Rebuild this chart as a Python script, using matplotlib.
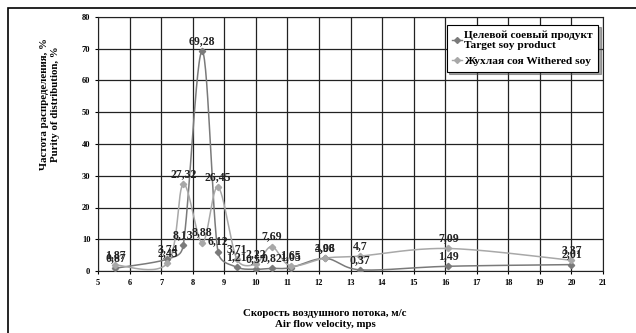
import numpy as np
import matplotlib.pyplot as plt
from matplotlib.patches import Rectangle

# data
speed = [5.55, 7.2, 7.7, 8.3, 8.8, 9.4, 10.0, 10.5, 11.1, 12.2, 13.3, 16.1, 20.0]
target = [0.87, 3.74, 8.13, 69.28, 6.12, 1.21, 0.57, 0.82, 1.05, 3.98, 0.37, 1.49, 2.01]
withered = [1.87, 2.45, 27.32, 8.88, 26.45, 3.71, 2.22, 7.69, 1.65, 4.06, 4.7, 7.09, 3.37]

series_names = ["Целевой соевый продукт\nTarget soy product", "Жухлая соя Withered soy"]
colors = ["#7a7a7a", "#a8a8a8"]

plt.rcParams['font.family'] = ['Liberation Serif', 'DejaVu Serif']
plt.rcParams['font.weight'] = 'bold'


def arm(v, seg_len):
    # limit bezier arm to half of the segment
    n = np.hypot(*v)
    if n > seg_len / 2 and n > 0:
        v = v * (seg_len / 2) / n
    return v


def smooth(ax, xs, ys, n=30):
    # excel-like smoothed line, done in screen space
    p = ax.transData.transform(np.column_stack([xs, ys]))
    p = np.vstack([p[0], p, p[-1]])
    out = []
    t = np.linspace(0, 1, n)[:, None]
    for i in range(1, len(p) - 2):
        p0, p1, p2, p3 = p[i - 1], p[i], p[i + 1], p[i + 2]
        d12 = np.hypot(*(p2 - p1))
        c1 = p1 + arm((p2 - p0) / 6, d12)
        c2 = p2 - arm((p3 - p1) / 6, d12)
        seg = ((1 - t) ** 3) * p1 + 3 * ((1 - t) ** 2) * t * c1 + 3 * (1 - t) * t ** 2 * c2 + t ** 3 * p2
        out.append(seg)
    out = ax.transData.inverted().transform(np.vstack(out))
    return out[:, 0], out[:, 1]


fig = plt.figure(figsize=(6.36, 3.33), dpi=100)
ax = fig.add_axes([98 / 636, 62 / 333, 505 / 636, 254 / 333])
ax.set_xlim(5, 21)
ax.set_ylim(0, 80)

for vals, name, c in zip([target, withered], series_names, colors):
    sx, sy = smooth(ax, speed, vals)
    ax.plot(sx, sy, color=c, lw=1.1, zorder=3)
    ax.plot(speed, vals, 'D', color=c, markersize=3.2, zorder=4)
    ax.plot([], [], '-D', color=c, markersize=3, lw=1, label=name)
    for x, y in zip(speed, vals):
        ax.annotate(f"{y:g}".replace('.', ','), (x, y), xytext=(0, 3), textcoords='offset points',
                    ha='center', va='bottom', fontsize=8.5, fontweight='bold', color='#222222', zorder=5)

ax.set_xticks(range(5, 22))
ax.set_yticks(range(0, 81, 10))
ax.tick_params(labelsize=6, length=2, width=0.8)
for lab in ax.get_xticklabels() + ax.get_yticklabels():
    lab.set_fontweight('bold')
ax.grid(True, color='#222222', lw=0.9)
ax.set_axisbelow(True)
for s in ax.spines.values():
    s.set_color('#222222')

leg = ax.legend(loc='upper left', bbox_to_anchor=(441 / 636, 1 - 19 / 333), bbox_transform=fig.transFigure,
                frameon=True, fancybox=False, shadow=True, handlelength=0.8,
                handletextpad=0.2, borderpad=0.5, labelspacing=0.5, prop={'weight': 'bold', 'size': 8.2})
leg.get_frame().set_edgecolor('black')
leg.get_frame().set_linewidth(0.8)

fig.text(50 / 636, 1 - 104 / 333, "Частота распределения, %\nPurity of distribution, %", rotation=90,
         ha='center', va='center', fontsize=7.8, fontweight='bold', multialignment='center')
fig.text(325 / 636, 1 - 319 / 333, "Скорость воздушного потока, м/с\nAir flow velocity, mps",
         ha='center', va='center', fontsize=7.8, fontweight='bold', multialignment='center')

fig.patches.append(Rectangle((8 / 636, -0.1), 1.2, 1.1 - 8 / 333, transform=fig.transFigure,
                             fill=False, edgecolor='black', lw=1.2))

plt.savefig("out.png", dpi=100)
